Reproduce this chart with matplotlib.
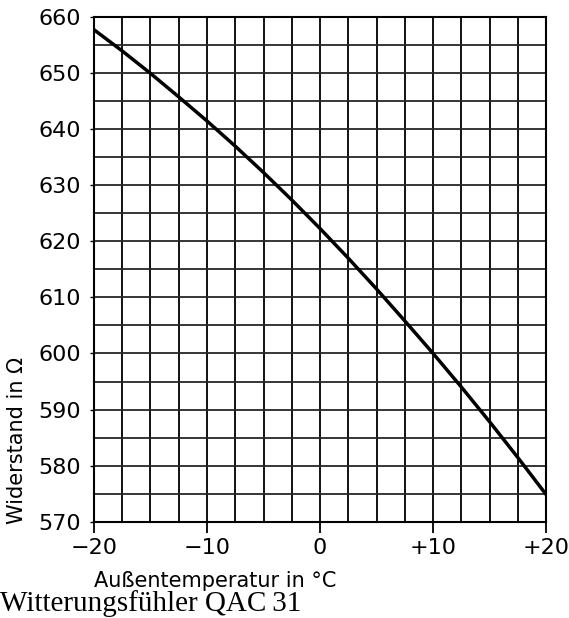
import matplotlib
matplotlib.use("Agg")
import matplotlib.pyplot as plt
import numpy as np

# Kennlinie Witterungsfuehler QAC 31
temp_c = [-20, -17.5, -15, -12.5, -10, -7.5, -5, -2.5, 0, 2.5, 5, 7.5, 10, 12.5, 15, 17.5, 20]
resist_ohm = [657.8, 654.0, 650.0, 645.8, 641.5, 637.0, 632.3, 627.4, 622.3,
              617.0, 611.5, 605.8, 600.0, 594.0, 587.8, 581.4, 574.8]

x_ticks = [-20, -10, 0, 10, 20]
x_ticklabels = ["\u221220", "\u221210", "0", "+10", "+20"]
y_ticks = [570, 580, 590, 600, 610, 620, 630, 640, 650, 660]

plt.rcParams["font.family"] = ["DejaVu Sans"]

fig = plt.figure(figsize=(5.69, 6.18), dpi=100)
ax = fig.add_axes([0.165, 0.156, 0.795, 0.816])

# grid: every 2.5 degC and every 5 Ohm
for gx in np.arange(-20, 20.01, 2.5):
    ax.axvline(gx, color="#111111", lw=1.4, zorder=1)
for gy in np.arange(570, 660.01, 5):
    ax.axhline(gy, color="#262626", lw=1.3, zorder=1)

ax.plot(temp_c, resist_ohm, color="black", lw=2.5, solid_capstyle="butt", zorder=3)

ax.set_xlim(-20, 20)
ax.set_ylim(570, 660)
for s in ax.spines.values():
    s.set_linewidth(1.5)

ax.set_xticks(x_ticks)
ax.set_xticklabels(x_ticklabels)
ax.set_yticks(y_ticks)
ax.tick_params(axis="x", direction="out", length=8, width=1.3, pad=4, labelsize=16)
ax.tick_params(axis="y", direction="out", length=3, width=1.0, pad=6, labelsize=16)

ax.set_ylabel("Widerstand in \u03a9", fontsize=15)
ax.yaxis.set_label_coords(-0.148, 0.16)
ax.set_xlabel("Au\u00dfentemperatur in \u00b0C", fontsize=15, va="baseline")
ax.xaxis.set_label_coords(0.269, -0.129)

fig.text(0.0, 0.011, "Witterungsf\u00fchler QAC\u200931", family=["Liberation Serif", "DejaVu Serif"],
         fontsize=21, va="baseline", ha="left")

fig.savefig("out.png", dpi=100)
